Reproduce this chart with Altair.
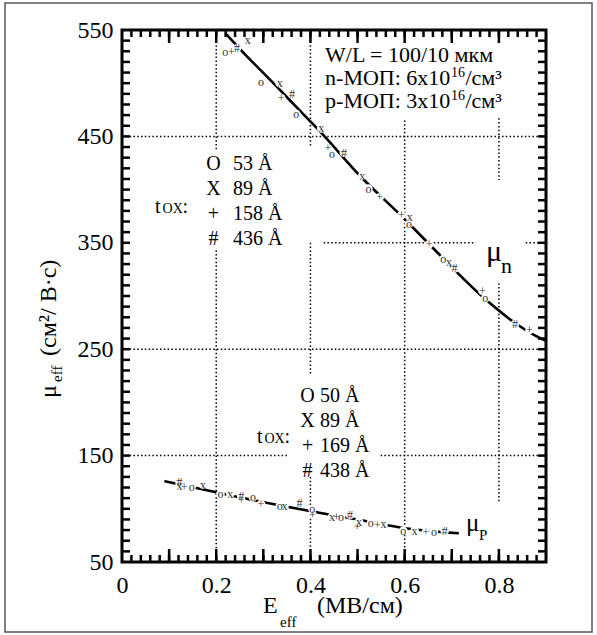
import altair as alt
import numpy as np
import pandas as pd

FONT = "'Liberation Serif', 'Times New Roman', Times, 'DejaVu Serif', serif"
W, H = 424, 532                      # plot area in px
E_DOMAIN = [0, 0.9]                  # effective field, MV/cm
MU_DOMAIN = [50, 550]                # mobility, cm^2/(V*s)

# ---- axis labels / tick positions ----
x_label_values = [0, 0.2, 0.4, 0.6, 0.8]
y_label_values = [50, 150, 250, 350, 450, 550]
x_minor_ticks = list(np.round(np.arange(0.02, 0.9, 0.02), 2))
x_major_ticks = [0.1, 0.2, 0.3, 0.4, 0.5, 0.6, 0.7, 0.8]
y_ticks = list(range(60, 550, 10))

# ---- n-channel: fitted curve and measured points ----
n_curve_E = [0.219, 0.255, 0.327, 0.378, 0.410, 0.427, 0.505, 0.596, 0.647, 0.766, 0.830, 0.887, 0.900]
n_curve_mu = [547, 530, 497.5, 474, 459.5, 451.5, 413, 374, 351, 299, 276, 260.5, 258]

n_sym = ["x", "o", "+", "#", "o", "x", "+", "#", "o", "x", "+", "o", "#", "x",
         "o", "+", "+", "x", "o", "+", "o", "x", "#", "+", "o", "#", "+"]
n_E = [0.267, 0.219, 0.232, 0.244, 0.295, 0.335, 0.338, 0.361, 0.370, 0.423, 0.437, 0.446, 0.471, 0.510,
       0.523, 0.547, 0.593, 0.611, 0.609, 0.652, 0.682, 0.694, 0.706, 0.765, 0.771, 0.834, 0.865]
n_mu = [540.6, 529.6, 529.0, 532.8, 500.8, 500.0, 485.8, 489.6, 471.0, 457.6, 438.8, 433.5, 434.7, 413.0,
        401.0, 392.8, 376.0, 374.5, 367.7, 348.6, 334.8, 331.7, 326.0, 305.0, 297.8, 273.7, 268.0]

# ---- p-channel: fitted curve and measured points ----
p_curve_E = [0.090, 0.200, 0.320, 0.410, 0.500, 0.590, 0.715]
p_curve_mu = [126, 115.5, 104.5, 97, 90, 82.5, 77]

p_sym = ["#", "x", "+", "o", "x", "o", "x", "#", "+", "o", "+", "o", "x", "#", "o",
         "+", "x", "+", "o", "#", "x", "+", "o", "+", "x", "o", "x", "+", "o", "#"]
p_E = [0.122, 0.122, 0.132, 0.148, 0.172, 0.209, 0.230, 0.253, 0.253, 0.278, 0.295, 0.335, 0.345, 0.377, 0.404,
       0.404, 0.446, 0.455, 0.465, 0.484, 0.503, 0.499, 0.528, 0.542, 0.555, 0.597, 0.621, 0.645, 0.662, 0.685]
p_mu = [125.5, 121.7, 120.2, 120.8, 122.7, 114.1, 114.1, 112.0, 108.3, 110.8, 104.5, 102.6, 102.6, 105.2, 100.0,
        94.5, 92.6, 92.0, 92.0, 94.2, 87.9, 82.6, 86.3, 84.8, 85.4, 79.4, 79.4, 77.9, 78.5, 79.4]

# ---- dotted reference grid (segments, in data units) ----
vgrid_E = [0.2, 0.2, 0.4, 0.4, 0.4, 0.6, 0.8, 0.8]
vgrid_mu1 = [550, 343, 550, 350, 130, 465, 467, 312]
vgrid_mu2 = [437, 50, 440, 225, 50, 50, 409, 105]
hgrid_mu = [450, 350, 350, 250, 150, 150]
hgrid_E1 = [0, 0.428, 0.857, 0, 0, 0.549]
hgrid_E2 = [0.9, 0.751, 0.9, 0.9, 0.353, 0.9]

x_axis = alt.Axis(values=x_label_values, ticks=False, domain=False, grid=False, title="",
                  labelExpr="datum.value == 0 ? '0' : format(datum.value, '.1f')",
                  labelFont=FONT, labelFontSize=24, labelColor="black", labelPadding=11,
                  labelFlush=False, labelOverlap=False)
y_axis = alt.Axis(values=y_label_values, ticks=False, domain=False, grid=False, title="",
                  format="d", labelFont=FONT, labelFontSize=24, labelColor="black",
                  labelPadding=9, labelFlush=False, labelOverlap=False)


def X(field):
    return alt.X(field, type="quantitative", scale=alt.Scale(domain=E_DOMAIN, nice=False, zero=False), axis=x_axis)


def X2(field):
    return alt.X2(field)


def Y(field):
    return alt.Y(field, type="quantitative", scale=alt.Scale(domain=MU_DOMAIN, nice=False, zero=False), axis=y_axis)


one = pd.DataFrame({"k": [0]})
layers = []

# outer frame of the figure
layers.append(alt.Chart(one).mark_rect(fillOpacity=0, stroke="#555555", strokeWidth=1.5).encode(
    x=alt.value(-117), x2=alt.value(470), y=alt.value(-27), y2=alt.value(602)))

# dotted grid
vg = pd.DataFrame({"E": vgrid_E, "mu1": vgrid_mu1, "mu2": vgrid_mu2})
layers.append(alt.Chart(vg).mark_rule(color="black", strokeWidth=1.5, strokeDash=[1.5, 2.3]).encode(
    x=X("E"), y=Y("mu1"), y2=alt.Y2("mu2")))
hg = pd.DataFrame({"mu": hgrid_mu, "E1": hgrid_E1, "E2": hgrid_E2})
layers.append(alt.Chart(hg).mark_rule(color="black", strokeWidth=1.5, strokeDash=[1.5, 2.3]).encode(
    x=X("E1"), x2=X2("E2"), y=Y("mu")))

# fitted curves
nc = pd.DataFrame({"E": n_curve_E, "mu": n_curve_mu, "o": range(len(n_curve_E))})
pc = pd.DataFrame({"E": p_curve_E, "mu": p_curve_mu, "o": range(len(p_curve_E))})
for df in (nc, pc):
    layers.append(alt.Chart(df).mark_line(color="black", strokeWidth=2.6, interpolate="monotone").encode(
        x=X("E"), y=Y("mu"), order="o:Q"))

# measured points: white halo then the symbol character
pts = pd.concat([
    pd.DataFrame({"E": n_E, "mu": n_mu, "s": n_sym}),
    pd.DataFrame({"E": p_E, "mu": p_mu, "s": p_sym}),
])
layers.append(alt.Chart(pts).mark_point(filled=True, color="white", opacity=1, size=75, shape="circle").encode(
    x=X("E"), y=Y("mu")))
layers.append(alt.Chart(pts).mark_text(font=FONT, fontSize=12, color="#333333", align="center",
                                       baseline="middle").encode(x=X("E"), y=Y("mu"), text="s:N"))

# inward ticks on all four sides
xm = pd.DataFrame({"E": x_minor_ticks})
xM = pd.DataFrame({"E": x_major_ticks})
yt = pd.DataFrame({"mu": y_ticks})
tick = dict(color="black", strokeWidth=2.5)
layers += [
    alt.Chart(xm).mark_rule(**tick).encode(x=X("E"), y=alt.value(H), y2=alt.value(H - 7)),
    alt.Chart(xM).mark_rule(**tick).encode(x=X("E"), y=alt.value(H), y2=alt.value(H - 13)),
    alt.Chart(xm).mark_rule(**tick).encode(x=X("E"), y=alt.value(0), y2=alt.value(7)),
    alt.Chart(xM).mark_rule(**tick).encode(x=X("E"), y=alt.value(0), y2=alt.value(13)),
    alt.Chart(yt).mark_rule(**tick).encode(y=Y("mu"), x=alt.value(0), x2=alt.value(8)),
    alt.Chart(yt).mark_rule(**tick).encode(y=Y("mu"), x=alt.value(W), x2=alt.value(W - 8)),
]


def texts(rows, size, align="left", color="black"):
    df = pd.DataFrame(rows, columns=["t", "E", "mu"])
    return alt.Chart(df).mark_text(font=FONT, fontSize=size, align=align, baseline="alphabetic",
                                   color=color).encode(x=X("E"), y=Y("mu"), text="t:N")


# device parameters
layers.append(texts([("W/L = 100/10 мкм", 0.431, 520.0),
                     ("n-МОП: 6x10", 0.431, 498.3),
                     ("p-МОП: 3x10", 0.431, 476.7),
                     ("/см³", 0.7291, 498.3),
                     ("/см³", 0.7291, 476.7)], 22))
layers.append(texts([("16", 0.6983, 505.8), ("16", 0.6983, 484.2)], 14))

# oxide thickness keys
layers.append(texts([("O", 0.1942, 418.4), ("X", 0.1942, 394.9), ("+", 0.1942, 371.4), ("#", 0.1942, 347.9),
                     ("O", 0.3938, 200.4), ("X", 0.3938, 176.9), ("+", 0.3938, 153.4), ("#", 0.3938, 129.9)],
                    20, align="center"))
layers.append(texts([("53 Å", 0.2356, 418.4), ("89 Å", 0.2356, 394.9), ("158 Å", 0.2356, 371.4),
                     ("436 Å", 0.2356, 347.9),
                     ("50 Å", 0.4203, 200.4), ("89 Å", 0.4203, 176.9), ("169 Å", 0.4203, 153.4),
                     ("438 Å", 0.4203, 129.9)], 20))
layers.append(texts([("t", 0.070, 378.0), (":", 0.1284, 378.0),
                     ("t", 0.2866, 161.8), (":", 0.3449, 161.8)], 20))
layers.append(texts([("OX", 0.0860, 378.0), ("OX", 0.3025, 161.8)], 14))

# curve names
layers.append(texts([("μ", 0.7726, 332.9)], 30))
layers.append(texts([("n", 0.8045, 321.6)], 22))
layers.append(texts([("μ", 0.7302, 79.1)], 25))
layers.append(texts([("P", 0.7578, 70.7)], 15))


def title_piece(s, px, py, size, angle=0):
    return alt.Chart(one).mark_text(font=FONT, fontSize=size, align="left", baseline="alphabetic",
                                    color="black", angle=angle).encode(
        x=alt.value(px), y=alt.value(py), text=alt.value(s))


# axis titles with subscripts
layers += [
    title_piece("E", 141, 583, 24),
    title_piece("eff", 158, 597, 15),
    title_piece("(МВ/см)", 195, 583, 24),
    title_piece("μ", -66, 368, 24, angle=270),
    title_piece("eff", -60, 352, 15, angle=270),
    title_piece("(см²/ В·с)", -66, 326, 24, angle=270),
]

chart = alt.layer(*layers).properties(
    width=W, height=H,
    autosize=alt.AutoSizeParams(type="none"),
    padding={"left": 122, "top": 30, "right": 51, "bottom": 73},
).configure_view(stroke="black", strokeWidth=3)

chart.save("out.html", embed_options={"renderer": "svg", "actions": False})
